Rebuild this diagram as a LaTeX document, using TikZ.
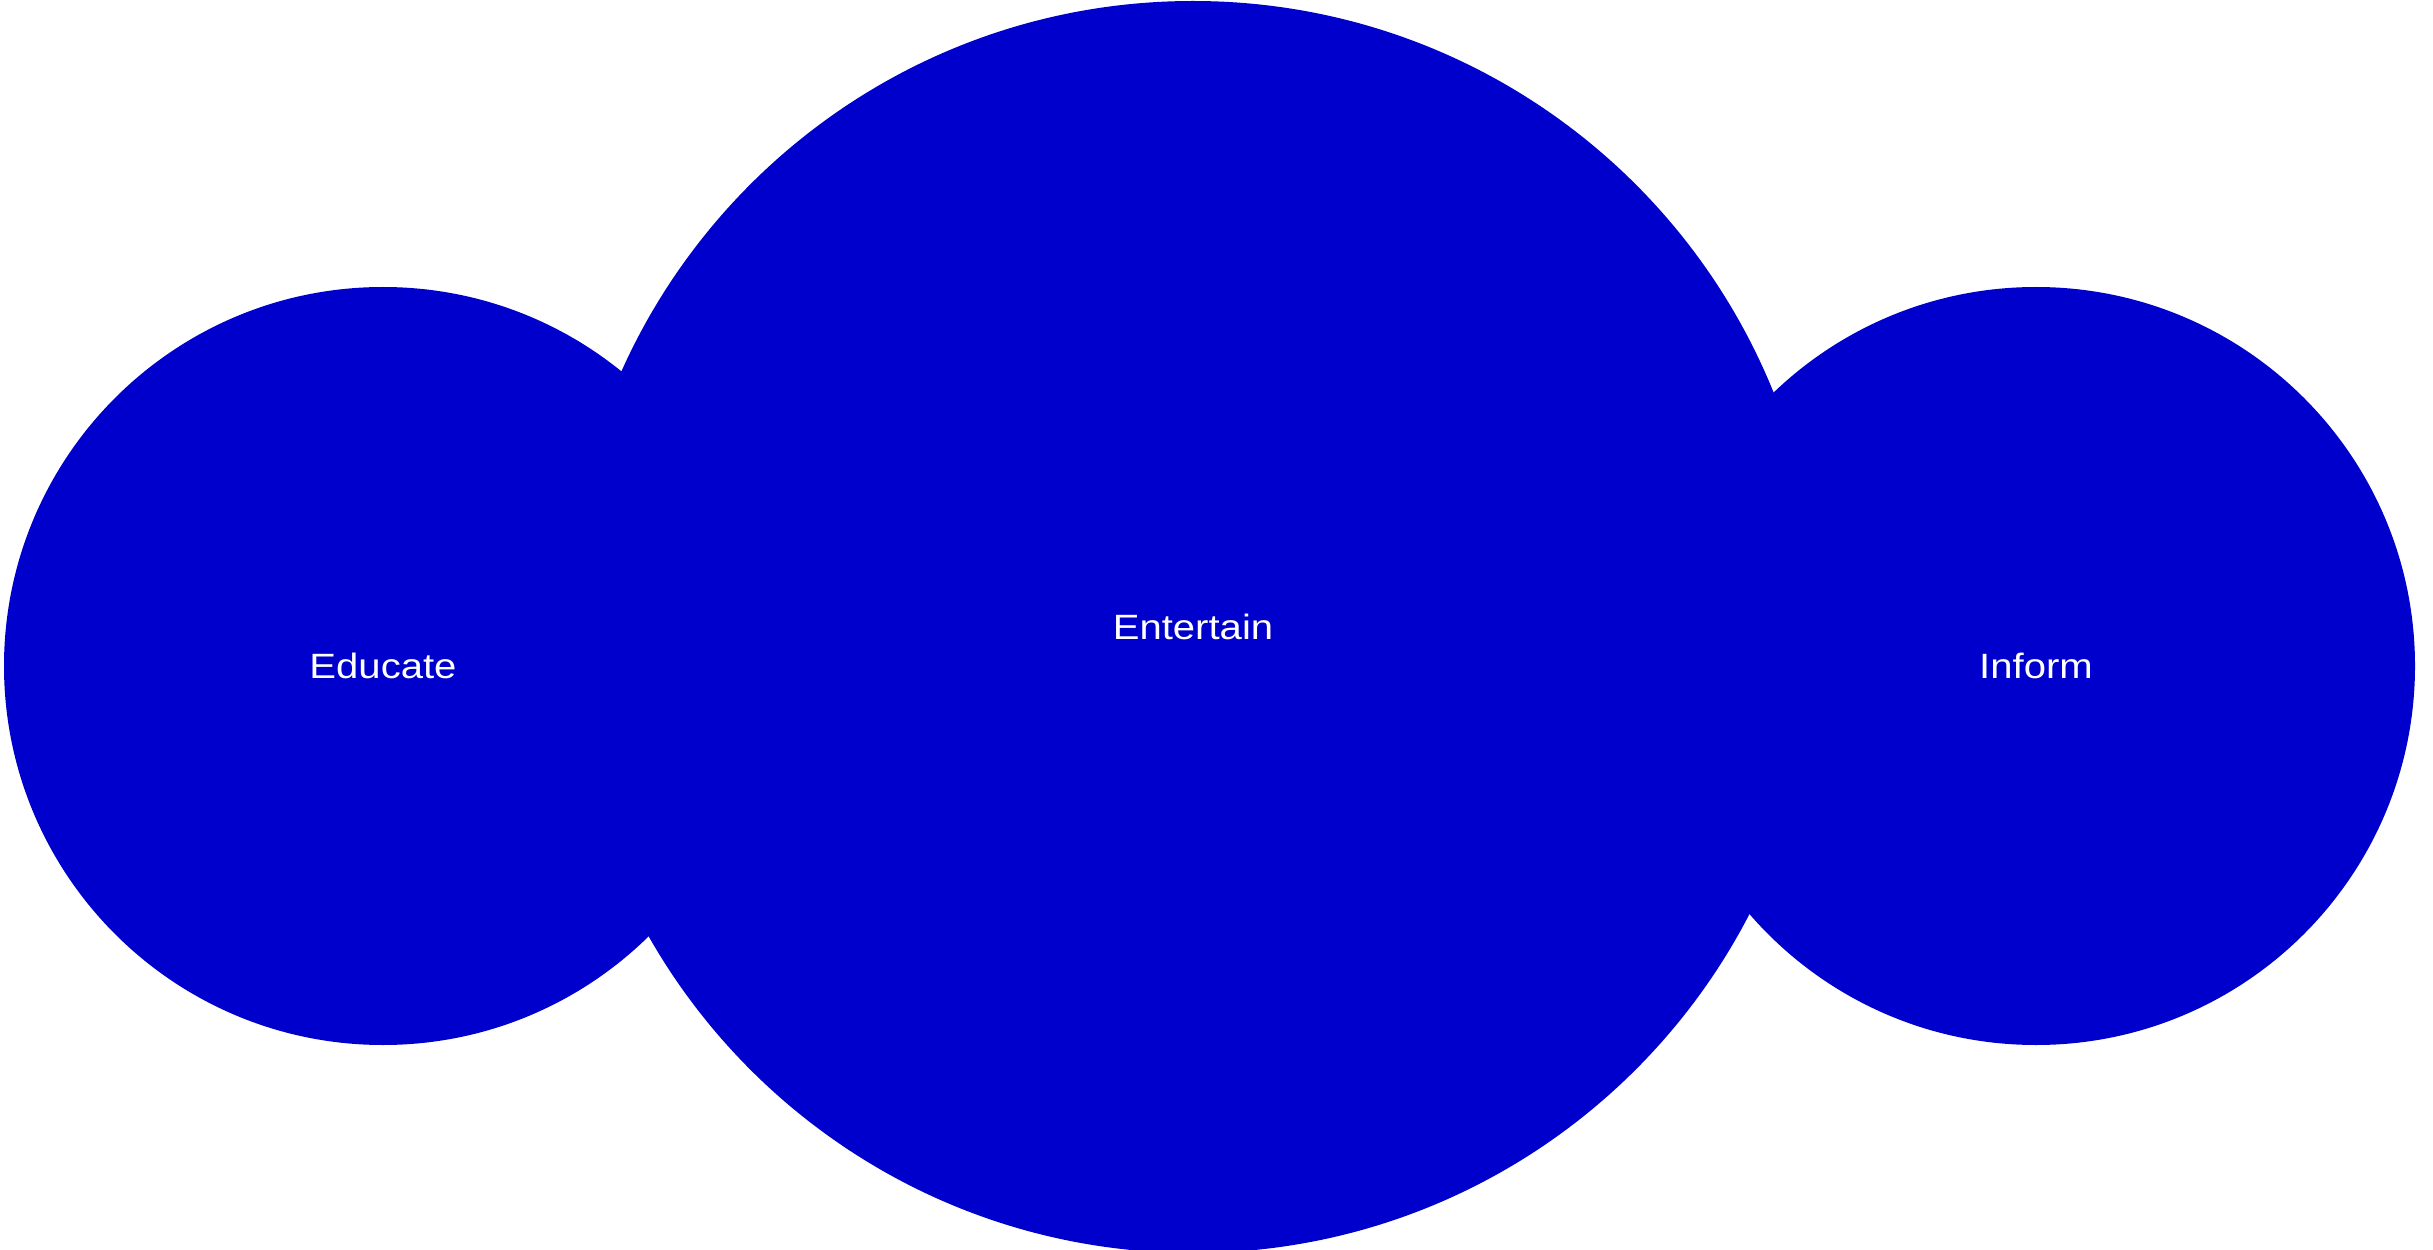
\documentclass[tikz,border=0pt]{standalone}
\usepackage{fontspec}
\setmainfont[FakeStretch=1.14]{Liberation Sans}
\usepackage{xcolor}
\usepackage{tikz}
\usetikzlibrary{positioning}

\definecolor{circleblue}{HTML}{0000CC}

\begin{document}
\begin{tikzpicture}[
    bubble/.style={circle, fill=circleblue, draw=none, inner sep=0pt, text=white, font=\fontsize{10}{12}\selectfont},
    smallbubble/.style={bubble, minimum size=7.58cm},
    bigbubble/.style={bubble, minimum size=12.52cm}
]

% page frame
\useasboundingbox (0,0) rectangle (24.33,12.49);

% side circles
\node[smallbubble] (educate) at (3.83,5.83) {Educate};
\node[smallbubble] (inform) at (20.36,5.83) {Inform};

% centre circle
\node[bigbubble] (entertain) at (11.93,6.22) {Entertain};

\end{tikzpicture}
\end{document}
